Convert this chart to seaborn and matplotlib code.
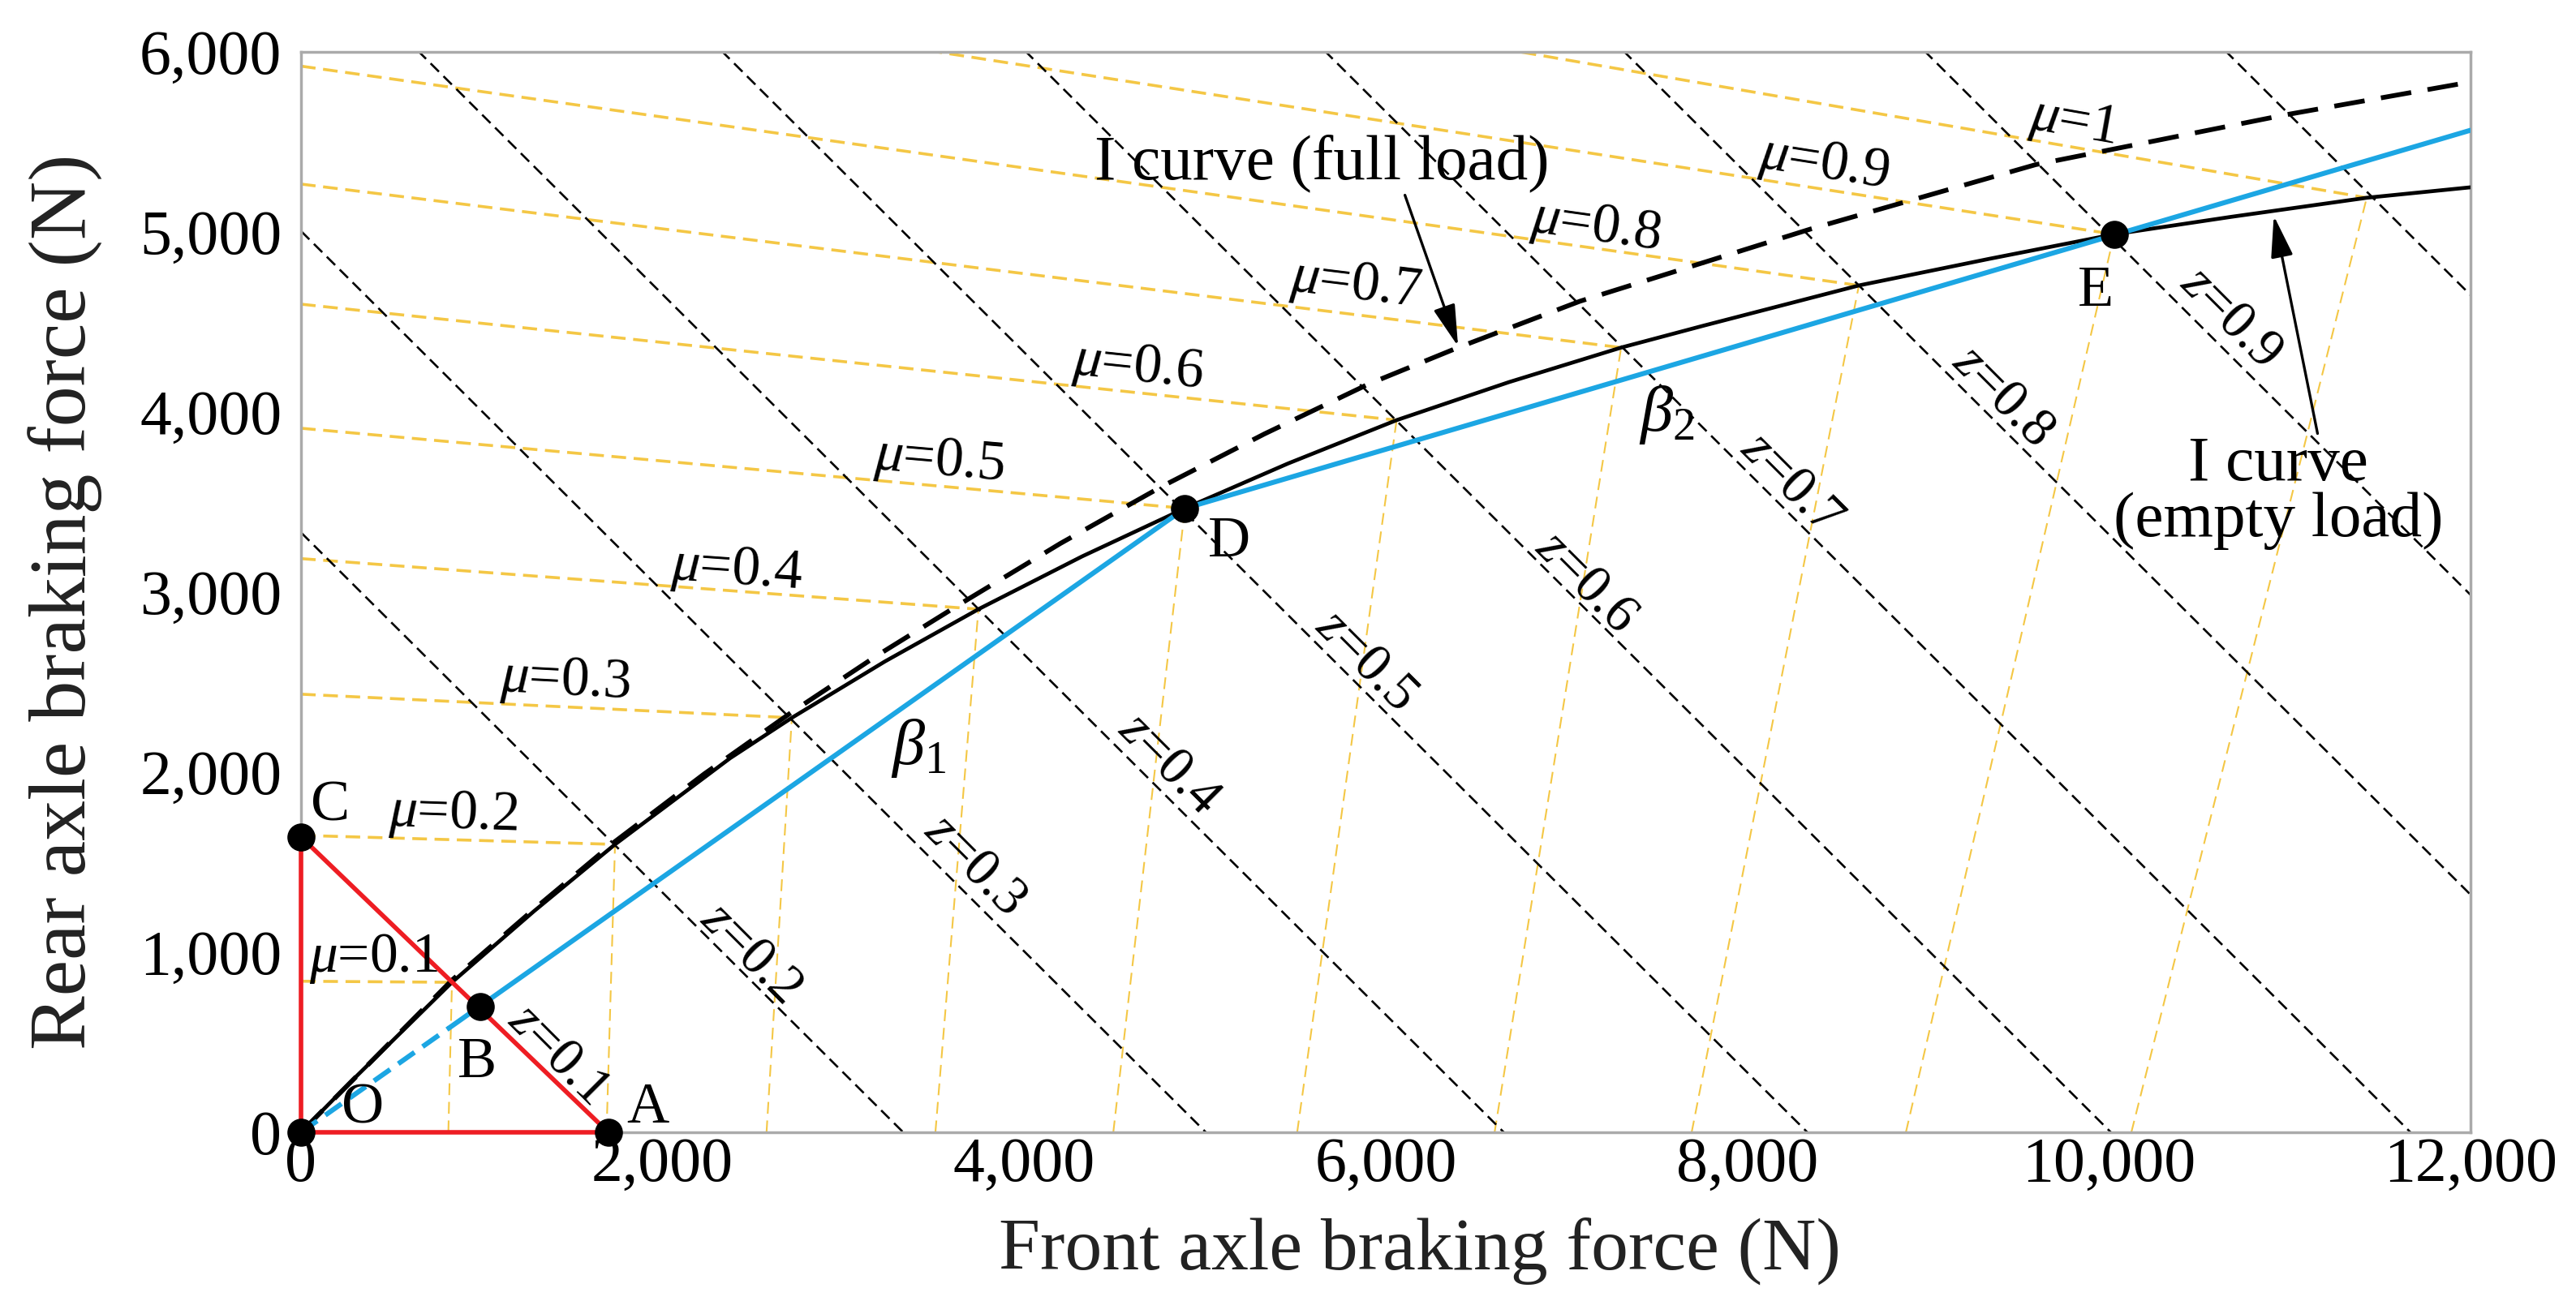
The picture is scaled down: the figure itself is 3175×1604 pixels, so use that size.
import numpy as np
import pandas as pd
import matplotlib
matplotlib.use("Agg")
import matplotlib.pyplot as plt
import seaborn as sns

# ---------------- data ----------------
x_ticks = [0, 2000, 4000, 6000, 8000, 10000, 12000]
x_tick_labels = ["0", "2,000", "4,000", "6,000", "8,000", "10,000", "12,000"]
y_ticks = [0, 1000, 2000, 3000, 4000, 5000, 6000]
y_tick_labels = ["0", "1,000", "2,000", "3,000", "4,000", "5,000", "6,000"]

# I curve (empty load) - solid black
i_empty_x = [0, 280, 835, 1290, 1737, 2374, 2715, 3230, 3747, 4320, 4889, 5459,
             6060, 6681, 7302, 7759, 8617, 9339, 10029, 10676, 11426, 12000]
i_empty_y = [0, 285, 833, 1229, 1599, 2078, 2302, 2615, 2905, 3198, 3465, 3714,
             3955, 4166, 4358, 4480, 4703, 4851, 4987, 5084, 5190, 5248]

# I curve (full load) - dashed black
i_full_x = [0, 835, 1290, 1737, 2230, 2717, 3190, 3656, 4200, 4755, 5330, 5904,
            6400, 7073, 8355, 9595, 10968, 12000]
i_full_y = [0, 845, 1240, 1615, 1990, 2335, 2650, 2940, 3270, 3583, 3879, 4155,
            4358, 4615, 5018, 5374, 5649, 5833]

# beta line (blue): dashed part then solid part
beta_dash_x = [0, 820]
beta_dash_y = [0, 580]
beta_x = [820, 4889, 12000]
beta_y = [580, 3465, 5565]

# red triangle O-A-C
red_x = [0, 1700, 0, 0]
red_y = [0, 0, 1640, 0]

# labelled points
pt_names = ["O", "A", "B", "C", "D", "E"]
pt_x = [0, 1700, 990, 0, 4889, 10029]
pt_y = [0, 0, 700, 1640, 3465, 4987]
pt_lab_x = [341, 1916, 974, 162, 5134, 9927]
pt_lab_y = [131, 131, 383, 1811, 3275, 4671]

# z lines (F1 + F2 = const), intercepts on both axes
z_vals = [0.2, 0.3, 0.4, 0.5, 0.6, 0.7, 0.8, 0.9, 1.0]
z_intercepts = [3331, 5005, 6653, 8332, 10011, 11668, 13320, 14985, 16650]
z_labels = ["0.1", "0.2", "0.3", "0.4", "0.5", "0.6", "0.7", "0.8", "0.9"]
z_lab_x = [1423, 2486, 3725, 4802, 5890, 7107, 8240, 9411, 10672]
z_lab_y = [432, 995, 1482, 2045, 2620, 3054, 3604, 4086, 4523]

# mu lines: intersection on the I curve, r-line start on y axis, f-line start on x axis
mu_labels = ["0.1", "0.2", "0.3", "0.4", "0.5", "0.6", "0.7", "0.8", "0.9", "1"]
mu_ix = [835, 1737, 2715, 3747, 4889, 6060, 7302, 8617, 10029, 11426]
mu_iy = [833, 1599, 2302, 2905, 3465, 3955, 4358, 4703, 4987, 5190]
r_start_y = [839, 1649, 2433, 3186, 3910, 4599, 5266, 5921, 6548, 7167]
f_start_x = [815, 1690, 2575, 3509, 4493, 5510, 6602, 7692, 8877, 10124]
mu_lab_x = [403, 844, 1463, 2410, 3532, 4631, 5834, 7162, 8424, 9801]
mu_lab_y = [965, 1761, 2505, 3117, 3725, 4243, 4703, 5027, 5374, 5604]
mu_rot = [0, -2, -3, -4, -5, -6, -7, -8, -9, -10]

# ---------------- style ----------------
sns.set_theme(style="white")
plt.rcParams["font.family"] = ["Liberation Serif", "DejaVu Serif"]
plt.rcParams["mathtext.fontset"] = "custom"
plt.rcParams["mathtext.rm"] = "Liberation Serif"
plt.rcParams["mathtext.it"] = "Liberation Serif:italic"
plt.rcParams["text.color"] = "black"

fig = plt.figure(figsize=(31.75, 16.04), dpi=100)
ax = fig.add_axes([0.11685, 0.12968, 0.84220, 0.83042])

YELLOW = "#F4C745"
BLUE = "#1CA6E3"
RED = "#EE1D23"

# yellow mu lines
r_df = pd.DataFrame({
    "x": [v for i in range(len(mu_ix)) for v in (0, mu_ix[i])],
    "y": [v for i in range(len(mu_ix)) for v in (r_start_y[i], mu_iy[i])],
    "id": [i for i in range(len(mu_ix)) for _ in range(2)],
})
f_df = pd.DataFrame({
    "x": [v for i in range(len(mu_ix)) for v in (f_start_x[i], mu_ix[i])],
    "y": [v for i in range(len(mu_ix)) for v in (0, mu_iy[i])],
    "id": [i for i in range(len(mu_ix)) for _ in range(2)],
})
sns.lineplot(data=r_df, x="x", y="y", units="id", estimator=None, sort=False,
             color=YELLOW, lw=2.6, linestyle=(0, (5, 2.6)), legend=False, ax=ax, zorder=1)
sns.lineplot(data=f_df, x="x", y="y", units="id", estimator=None, sort=False,
             color=YELLOW, lw=1.5, linestyle=(0, (7, 4)), legend=False, ax=ax, zorder=1)

# z lines
z_df = pd.DataFrame({
    "x": [v for c in z_intercepts for v in (0, c)],
    "y": [v for c in z_intercepts for v in (c, 0)],
    "id": [i for i in range(len(z_intercepts)) for _ in range(2)],
})
sns.lineplot(data=z_df, x="x", y="y", units="id", estimator=None, sort=False,
             color="black", lw=1.9, linestyle=(0, (5.5, 3)), legend=False, ax=ax, zorder=2)

# I curves
sns.lineplot(x=i_full_x, y=i_full_y, sort=False, estimator=None, color="black",
             lw=4.2, linestyle=(0, (6.5, 3.5)), legend=False, ax=ax, zorder=4)
sns.lineplot(x=i_empty_x, y=i_empty_y, sort=False, estimator=None, color="black",
             lw=3.4, legend=False, ax=ax, zorder=5)

# beta line
sns.lineplot(x=beta_dash_x, y=beta_dash_y, sort=False, estimator=None, color=BLUE,
             lw=4.4, linestyle=(0, (4, 2)), legend=False, ax=ax, zorder=6)
sns.lineplot(x=beta_x, y=beta_y, sort=False, estimator=None, color=BLUE,
             lw=4.4, legend=False, ax=ax, zorder=6)

# red triangle
sns.lineplot(x=red_x, y=red_y, sort=False, estimator=None, color=RED,
             lw=4.0, legend=False, ax=ax, zorder=7)
ax.lines[-1].set_clip_on(False)

# points
sns.scatterplot(x=pt_x, y=pt_y, color="black", s=620, edgecolor="black",
                linewidth=0, legend=False, ax=ax, zorder=9, clip_on=False)

# ---------------- text ----------------
for n, x, y in zip(pt_names, pt_lab_x, pt_lab_y):
    ax.text(x, y, n, fontsize=52, ha="center", va="center", zorder=10)

for lab, x, y in zip(z_labels, z_lab_x, z_lab_y):
    ax.text(x, y, r"$z$=" + lab, fontsize=48, ha="center", va="center",
            rotation=-45, rotation_mode="anchor", zorder=10)

for lab, x, y, r in zip(mu_labels, mu_lab_x, mu_lab_y, mu_rot):
    ax.text(x, y, r"$\mu$=" + lab, fontsize=50, ha="center", va="center",
            rotation=r, rotation_mode="anchor", zorder=10)

ax.text(3415, 2135, r"$\beta_1$", fontsize=58, ha="center", va="center", zorder=10)
ax.text(7553, 3982, r"$\beta_2$", fontsize=58, ha="center", va="center", zorder=10)

ax.annotate("I curve (full load)", xy=(6400, 4365), xytext=(5648, 5381),
            fontsize=57, ha="center", va="center", zorder=10,
            arrowprops=dict(arrowstyle="-|>,head_length=0.45,head_width=0.12",
                            mutation_scale=70, color="black", lw=2.4,
                            shrinkA=0, shrinkB=0, relpos=(0.68, 0.0)))
ax.annotate("I curve\n(empty load)", xy=(10912, 5090), xytext=(10938, 3550),
            fontsize=57, ha="center", va="center", zorder=10, linespacing=0.95,
            arrowprops=dict(arrowstyle="-|>,head_length=0.45,head_width=0.12",
                            mutation_scale=70, color="black", lw=2.4,
                            shrinkA=0, shrinkB=0, relpos=(0.62, 1.0)))

# ---------------- axes ----------------
ax.set_xlim(0, 12000)
ax.set_ylim(0, 6000)
ax.set_xticks(x_ticks)
ax.set_xticklabels(x_tick_labels)
ax.set_yticks(y_ticks)
ax.set_yticklabels(y_tick_labels)
ax.tick_params(axis="both", direction="in", length=12, width=2, color="#999999",
               labelsize=56, labelcolor="black")
ax.tick_params(axis="x", pad=4)
ax.tick_params(axis="y", pad=17)
for sp in ax.spines.values():
    sp.set_color("#AAAAAA")
    sp.set_linewidth(2.5)
    sp.set_visible(True)

ax.set_xlabel("Front axle braking force (N)", fontsize=66, color="#222222")
ax.set_ylabel("Rear axle braking force (N)", fontsize=72, color="#222222")
ax.xaxis.label.set_va("center")
ax.yaxis.label.set_va("center")
ax.xaxis.set_label_coords(0.5155, -0.110)
ax.yaxis.set_label_coords(-0.1085, 0.491)

fig.savefig("out.png", dpi=100, facecolor="white")
